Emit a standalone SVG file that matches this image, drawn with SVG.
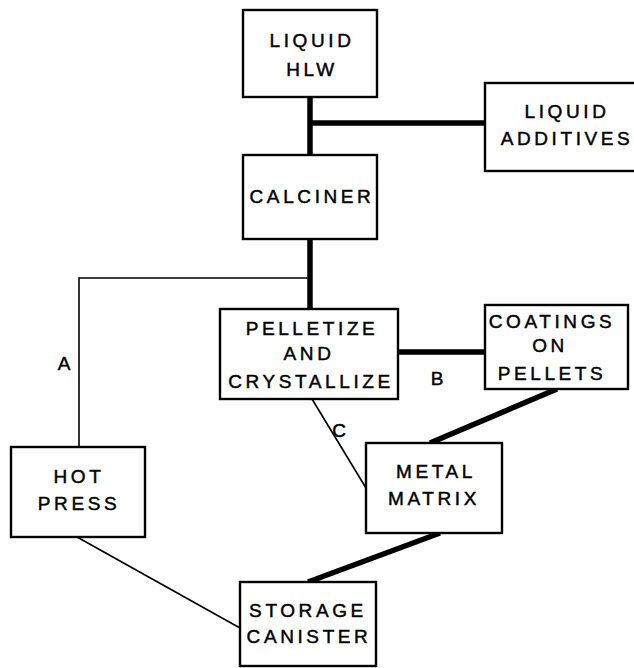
<svg xmlns="http://www.w3.org/2000/svg" width="634" height="668" viewBox="0 0 634 668">
<style>
.box{fill:#fff;stroke:#000;stroke-width:2.4}
.t{font-family:"Liberation Sans",Arial,sans-serif;font-size:19px;letter-spacing:3.6px;fill:#000;stroke:#000;stroke-width:0.45;text-anchor:middle}
.thick{stroke:#000;stroke-width:5.5;fill:none}
.thin{stroke:#000;stroke-width:1.6;fill:none}
</style>
<rect width="634" height="668" fill="#fff"/>
<g id="connectors">
<line class="thick" x1="310" y1="97" x2="310" y2="155"/>
<line class="thick" x1="310" y1="123" x2="485" y2="123"/>
<line class="thick" x1="310" y1="239" x2="310" y2="309"/>
<polyline class="thin" points="310,278 79,278 79,447"/>
<line class="thick" x1="398" y1="352" x2="485" y2="352"/>
<line class="thin" x1="312" y1="399" x2="366" y2="488"/>
<line class="thick" x1="557" y1="389" x2="430" y2="443"/>
<line class="thick" x1="440" y1="533" x2="308" y2="582"/>
<line class="thin" x1="77" y1="537" x2="240" y2="628"/>
<text class="t" x="66" y="370">A</text>
<text class="t" x="439" y="385">B</text>
<text class="t" x="341" y="437">C</text>
</g>
<g id="liquid-hlw">
<rect class="box" x="243" y="10" width="134" height="87"/>
<text class="t" x="312" y="47">LIQUID</text>
<text class="t" x="312" y="76">HLW</text>
</g>
<g id="liquid-additives">
<rect class="box" x="485" y="83" width="160" height="88"/>
<text class="t" x="567" y="118">LIQUID</text>
<text class="t" x="567" y="145">ADDITIVES</text>
</g>
<g id="calciner">
<rect class="box" x="243" y="155" width="134" height="84"/>
<text class="t" x="312" y="203">CALCINER</text>
</g>
<g id="pelletize">
<rect class="box" x="220" y="309" width="178" height="90"/>
<text class="t" x="312" y="335">PELLETIZE</text>
<text class="t" x="309" y="360">AND</text>
<text class="t" x="311" y="388">CRYSTALLIZE</text>
</g>
<g id="coatings">
<rect class="box" x="485" y="305" width="143" height="84"/>
<text class="t" x="552" y="328">COATINGS</text>
<text class="t" x="550" y="352">ON</text>
<text class="t" x="552" y="380">PELLETS</text>
</g>
<g id="hot-press">
<rect class="box" x="11" y="447" width="134" height="90"/>
<text class="t" x="79" y="483">HOT</text>
<text class="t" x="79" y="510">PRESS</text>
</g>
<g id="metal-matrix">
<rect class="box" x="366" y="443" width="136" height="90"/>
<text class="t" x="436" y="478">METAL</text>
<text class="t" x="434" y="505">MATRIX</text>
</g>
<g id="storage-canister">
<rect class="box" x="240" y="582" width="136" height="84"/>
<text class="t" x="308" y="617">STORAGE</text>
<text class="t" x="309" y="643">CANISTER</text>
</g>
</svg>
